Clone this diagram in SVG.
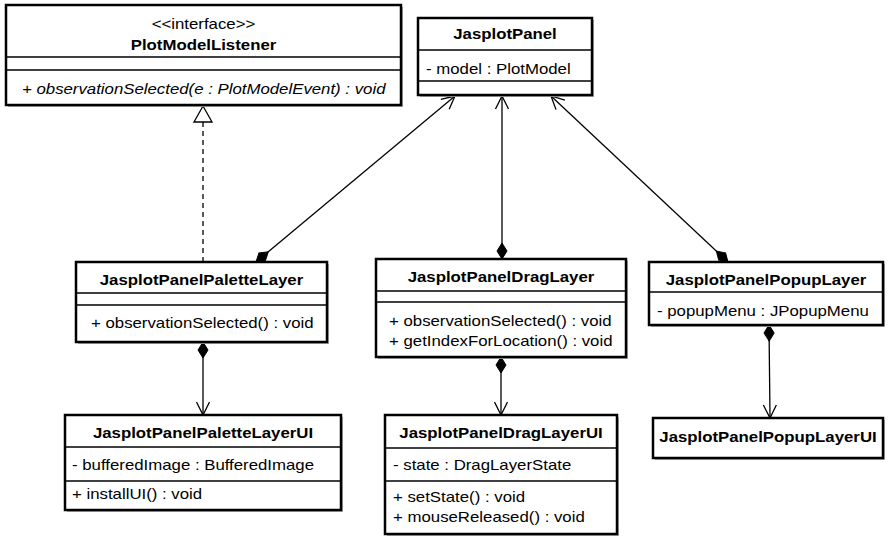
<svg xmlns="http://www.w3.org/2000/svg" width="890" height="538" viewBox="0 0 890 538">
<style>
.sh{fill:#b0b0b0;stroke:none}
.box{fill:#fff;stroke:#000;stroke-width:2.5}
.sep{stroke:#000;stroke-width:1.5}
text{font-family:"Liberation Sans",Arial,sans-serif;font-size:14px;fill:#000}
.t{font-weight:bold;text-anchor:middle}
.c{text-anchor:middle}
.i{font-style:italic}
.ln{fill:none;stroke:#000;stroke-width:1.3}
.dash{stroke-dasharray:5,4}
</style>
<defs>
<marker id="dia" markerUnits="userSpaceOnUse" markerWidth="20" markerHeight="14" refX="1" refY="7" orient="auto" overflow="visible">
<path d="M1,7 L9,2 L17,7 L9,12 Z" fill="#000" stroke="#000" stroke-width="1"/>
</marker>
<marker id="arr" markerUnits="userSpaceOnUse" markerWidth="16" markerHeight="16" refX="14" refY="8" orient="auto" overflow="visible">
<path d="M1,1.5 L14,8 L1,14.5" fill="none" stroke="#000" stroke-width="1.3"/>
</marker>
</defs>

<g id="connectors">
<line class="ln dash" x1="203" y1="262" x2="203" y2="122"/>
<path d="M203,106 L194,122 L212,122 Z" fill="#fff" stroke="#000" stroke-width="1.3"/>
<line class="ln" x1="256" y1="262" x2="455" y2="96" marker-start="url(#dia)" marker-end="url(#arr)"/>
<line class="ln" x1="502" y1="259" x2="502" y2="96" marker-start="url(#dia)" marker-end="url(#arr)"/>
<line class="ln" x1="728" y1="262" x2="551" y2="96" marker-start="url(#dia)" marker-end="url(#arr)"/>
<line class="ln" x1="203" y1="342" x2="203" y2="415" marker-start="url(#dia)" marker-end="url(#arr)"/>
<line class="ln" x1="501" y1="357" x2="501" y2="415" marker-start="url(#dia)" marker-end="url(#arr)"/>
<line class="ln" x1="769" y1="325" x2="770" y2="418" marker-start="url(#dia)" marker-end="url(#arr)"/>
</g>

<g id="PlotModelListener">
<rect class="sh" x="8" y="7" width="395" height="100"/>
<rect class="box" x="6" y="5" width="395" height="100"/>
<line class="sep" x1="6" y1="57" x2="401" y2="57"/>
<line class="sep" x1="6" y1="70" x2="401" y2="70"/>
<text class="c" transform="translate(203.5 29) scale(1.2 1)">&lt;&lt;interface&gt;&gt;</text>
<text class="t" transform="translate(203.5 50) scale(1.2 1)">PlotModelListener</text>
<text class="i" transform="translate(22 94) scale(1.2 1)">+ observationSelected(e : PlotModelEvent) : void</text>
</g>

<g id="JasplotPanel">
<rect class="sh" x="420" y="20" width="174" height="77"/>
<rect class="box" x="418" y="18" width="174" height="77"/>
<line class="sep" x1="418" y1="50" x2="592" y2="50"/>
<line class="sep" x1="418" y1="81" x2="592" y2="81"/>
<text class="t" transform="translate(505 39) scale(1.2 1)">JasplotPanel</text>
<text transform="translate(426 74) scale(1.2 1)">- model : PlotModel</text>
</g>

<g id="JasplotPanelPaletteLayer">
<rect class="sh" x="78" y="264" width="251" height="80"/>
<rect class="box" x="76" y="262" width="251" height="80"/>
<line class="sep" x1="76" y1="293" x2="327" y2="293"/>
<line class="sep" x1="76" y1="305" x2="327" y2="305"/>
<text class="t" transform="translate(201.5 285) scale(1.2 1)">JasplotPanelPaletteLayer</text>
<text transform="translate(91 328) scale(1.2 1)">+ observationSelected() : void</text>
</g>

<g id="JasplotPanelDragLayer">
<rect class="sh" x="378" y="261" width="250" height="98"/>
<rect class="box" x="376" y="259" width="250" height="98"/>
<line class="sep" x1="376" y1="291" x2="626" y2="291"/>
<line class="sep" x1="376" y1="302" x2="626" y2="302"/>
<text class="t" transform="translate(501 282) scale(1.2 1)">JasplotPanelDragLayer</text>
<text transform="translate(389 326) scale(1.2 1)">+ observationSelected() : void</text>
<text transform="translate(389 346) scale(1.2 1)">+ getIndexForLocation() : void</text>
</g>

<g id="JasplotPanelPopupLayer">
<rect class="sh" x="651" y="264" width="234" height="63"/>
<rect class="box" x="649" y="262" width="234" height="63"/>
<line class="sep" x1="649" y1="292" x2="883" y2="292"/>
<text class="t" transform="translate(766 285) scale(1.2 1)">JasplotPanelPopupLayer</text>
<text transform="translate(657 316) scale(1.2 1)">- popupMenu : JPopupMenu</text>
</g>

<g id="JasplotPanelPaletteLayerUI">
<rect class="sh" x="67" y="417" width="276" height="95"/>
<rect class="box" x="65" y="415" width="276" height="95"/>
<line class="sep" x1="65" y1="447" x2="341" y2="447"/>
<line class="sep" x1="65" y1="481" x2="341" y2="481"/>
<text class="t" transform="translate(203 438) scale(1.2 1)">JasplotPanelPaletteLayerUI</text>
<text transform="translate(72 470) scale(1.2 1)">- bufferedImage : BufferedImage</text>
<text transform="translate(72 499) scale(1.2 1)">+ installUI() : void</text>
</g>

<g id="JasplotPanelDragLayerUI">
<rect class="sh" x="387" y="417" width="232" height="119"/>
<rect class="box" x="385" y="415" width="232" height="119"/>
<line class="sep" x1="385" y1="448" x2="617" y2="448"/>
<line class="sep" x1="385" y1="481" x2="617" y2="481"/>
<text class="t" transform="translate(501 438) scale(1.2 1)">JasplotPanelDragLayerUI</text>
<text transform="translate(393 470) scale(1.2 1)">- state : DragLayerState</text>
<text transform="translate(393 502) scale(1.2 1)">+ setState() : void</text>
<text transform="translate(393 522) scale(1.2 1)">+ mouseReleased() : void</text>
</g>

<g id="JasplotPanelPopupLayerUI">
<rect class="sh" x="655" y="420" width="230" height="40"/>
<rect class="box" x="653" y="418" width="230" height="40"/>
<text class="t" transform="translate(768 442) scale(1.2 1)">JasplotPanelPopupLayerUI</text>
</g>
</svg>
